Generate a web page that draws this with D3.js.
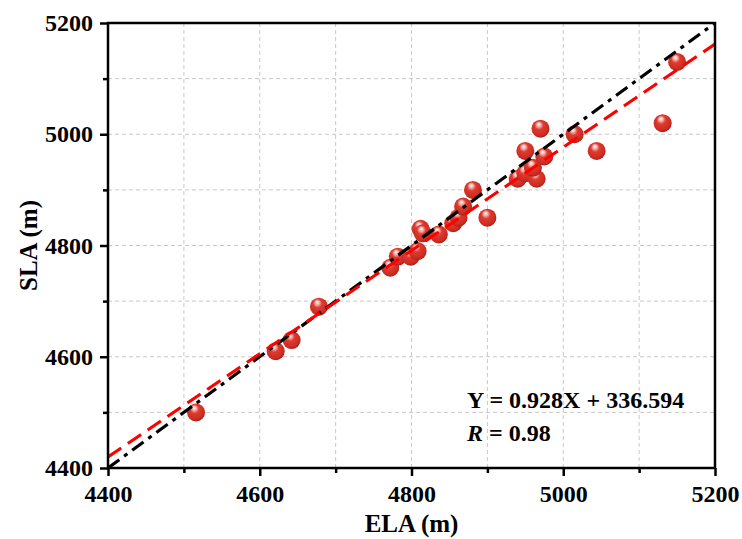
<!DOCTYPE html>
<html>
<head>
<meta charset="utf-8">
<script src="https://cdn.jsdelivr.net/npm/d3@7"></script>
<style>
  html, body { margin: 0; padding: 0; background: #fff; }
  svg { display: block; }
  text { font-family: "Liberation Serif", "Times New Roman", serif; font-weight: bold; fill: #000; }
</style>
</head>
<body>
<div id="chart"></div>
<script>
const ela = [4516, 4621, 4642, 4678, 4772, 4782, 4799, 4808, 4812, 4815, 4836, 4855, 4862, 4868,
  4881, 4900, 4940, 4950, 4965, 4960, 4950, 4975, 4970, 5015, 5044, 5131, 5150];
const sla = [4500, 4610, 4630, 4690, 4760, 4780, 4780, 4790, 4830, 4822, 4820, 4840, 4850, 4870,
  4900, 4850, 4920, 4930, 4920, 4940, 4970, 4960, 5010, 5000, 4970, 5020, 5130];
const domain = [4400, 5200];
const majorTicks = [4400, 4600, 4800, 5000, 5200];
const minorTicks = [4500, 4700, 4900, 5100];
const slope = 0.928, intercept = 336.594, rValue = 0.98;

const W = 742, H = 539;
const m = { left: 108, right: 27, top: 23, bottom: 71 };

const svg = d3.select('#chart').append('svg').attr('width', W).attr('height', H);

const defs = svg.append('defs');
const grad = defs.append('radialGradient').attr('id', 'ball')
  .attr('cx', '45%').attr('cy', '42%').attr('r', '58%').attr('fx', '40%').attr('fy', '24%');
grad.append('stop').attr('offset', '0%').attr('stop-color', '#ffffff');
grad.append('stop').attr('offset', '20%').attr('stop-color', '#f3b0a9');
grad.append('stop').attr('offset', '42%').attr('stop-color', '#df3a2f');
grad.append('stop').attr('offset', '85%').attr('stop-color', '#cc2c22');
grad.append('stop').attr('offset', '100%').attr('stop-color', '#a51e16');

const x = d3.scaleLinear().domain(domain).range([m.left, W - m.right]);
const y = d3.scaleLinear().domain(domain).range([H - m.bottom, m.top]);
defs.append('clipPath').attr('id', 'plot').append('rect')
  .attr('x', x(domain[0])).attr('y', y(domain[1]))
  .attr('width', x(domain[1]) - x(domain[0])).attr('height', y(domain[0]) - y(domain[1]));

// grid at every 100
const gridVals = majorTicks.concat(minorTicks).filter(v => v > domain[0] && v < domain[1]);
const grid = svg.append('g').attr('stroke', '#c8c8c8').attr('stroke-width', 1).attr('stroke-dasharray', '4,3');
gridVals.forEach(v => {
  grid.append('line').attr('x1', x(v)).attr('x2', x(v)).attr('y1', y(domain[0])).attr('y2', y(domain[1]));
  grid.append('line').attr('y1', y(v)).attr('y2', y(v)).attr('x1', x(domain[0])).attr('x2', x(domain[1]));
});

// points
svg.append('g').selectAll('circle').data(ela.map((e, i) => [e, sla[i]])).join('circle')
  .attr('cx', d => x(d[0])).attr('cy', d => y(d[1])).attr('r', 9)
  .attr('fill', 'url(#ball)');

// lines
const lines = svg.append('g').attr('clip-path', 'url(#plot)').attr('fill', 'none');
lines.append('line')
  .attr('x1', x(domain[0])).attr('y1', y(domain[0])).attr('x2', x(domain[1])).attr('y2', y(domain[1]))
  .attr('stroke', '#000').attr('stroke-width', 3.2).attr('stroke-dasharray', '14,6,4,6');
lines.append('line')
  .attr('x1', x(domain[0])).attr('y1', y(slope * domain[0] + intercept))
  .attr('x2', x(domain[1])).attr('y2', y(slope * domain[1] + intercept))
  .attr('stroke', '#f00').attr('stroke-width', 3.2).attr('stroke-dasharray', '16,8');

// axes
const xAxis = svg.append('g').attr('transform', `translate(0,${y(domain[0])})`)
  .call(d3.axisBottom(x).tickValues(majorTicks).tickSize(8).tickPadding(9).tickFormat(d3.format('d')));
const xMinor = svg.append('g').attr('transform', `translate(0,${y(domain[0])})`)
  .call(d3.axisBottom(x).tickValues(minorTicks).tickSize(5).tickFormat(''));
const yAxis = svg.append('g').attr('transform', `translate(${x(domain[0])},0)`)
  .call(d3.axisLeft(y).tickValues(majorTicks).tickSize(8).tickPadding(7).tickFormat(d3.format('d')));
const yMinor = svg.append('g').attr('transform', `translate(${x(domain[0])},0)`)
  .call(d3.axisLeft(y).tickValues(minorTicks).tickSize(5).tickFormat(''));
[xAxis, xMinor, yAxis, yMinor].forEach(g => {
  g.select('.domain').remove();
  g.selectAll('.tick line').attr('stroke', '#000').attr('stroke-width', 2.5);
  g.selectAll('.tick text').style('font-size', '24px').attr('fill', '#000');
});

// frame
svg.append('rect')
  .attr('x', x(domain[0])).attr('y', y(domain[1]))
  .attr('width', x(domain[1]) - x(domain[0])).attr('height', y(domain[0]) - y(domain[1]))
  .attr('fill', 'none').attr('stroke', '#000').attr('stroke-width', 2.5);

// titles
svg.append('text').attr('x', (x(domain[0]) + x(domain[1])) / 2).attr('y', 532)
  .attr('text-anchor', 'middle').style('font-size', '25px').text('ELA (m)');
svg.append('text').attr('transform', `translate(37,${(y(domain[0]) + y(domain[1])) / 2}) rotate(-90)`)
  .attr('text-anchor', 'middle').style('font-size', '25px').text('SLA (m)');

// annotation
const ann = svg.append('text').attr('x', 467).attr('y', 408).style('font-size', '24px');
ann.text(`Y = ${slope}X + ${intercept}`);
const ann2 = svg.append('text').attr('x', 467).attr('y', 441).style('font-size', '24px');
ann2.append('tspan').style('font-style', 'italic').text('R');
ann2.append('tspan').text(` = ${rValue}`);
</script>
</body>
</html>
